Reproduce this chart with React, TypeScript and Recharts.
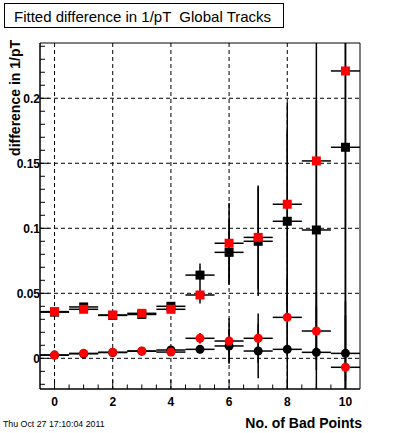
import React from "react";
import { ScatterChart, Scatter, XAxis, YAxis, CartesianGrid, ErrorBar, ReferenceArea } from "recharts";

const badPoints = [0, 1, 2, 3, 4, 5, 6, 7, 8, 9, 10];
const binHalfWidth = 0.5;

const blackSquareY = [0.0355, 0.0395, 0.033, 0.0337, 0.04, 0.064, 0.0815, 0.09, 0.1054, 0.0987, 0.1623];
const blackSquareErr = [0.002, 0.002, 0.002, 0.002, 0.003, 0.009, 0.025, 0.042, 0.07, 0.1, 0.18];
const redSquareY = [0.0359, 0.0377, 0.0333, 0.0346, 0.0377, 0.0487, 0.0885, 0.093, 0.1185, 0.1518, 0.221];
const redSquareErr = [0.002, 0.002, 0.002, 0.002, 0.003, 0.0065, 0.031, 0.04, 0.078, 0.15, 0.25];
const blackCircleY = [0.0025, 0.0035, 0.0045, 0.0055, 0.0064, 0.0069, 0.0095, 0.0056, 0.0069, 0.0046, 0.0038];
const blackCircleErr = [0.001, 0.001, 0.001, 0.001, 0.002, 0.003, 0.013, 0.021, 0.04, 0.035, 0.04];
const redCircleY = [0.0025, 0.0038, 0.0046, 0.0056, 0.0048, 0.0154, 0.0133, 0.0154, 0.0315, 0.021, -0.0069];
const redCircleErr = [0.001, 0.001, 0.001, 0.001, 0.002, 0.004, 0.0175, 0.019, 0.03, 0.03, 0.04];

const xTicks = [0, 0.5, 1, 1.5, 2, 2.5, 3, 3.5, 4, 4.5, 5, 5.5, 6, 6.5, 7, 7.5, 8, 8.5, 9, 9.5, 10];
const xMajor = [0, 2, 4, 6, 8, 10];
const yTicks = [-0.02, -0.01, 0, 0.01, 0.02, 0.03, 0.04, 0.05, 0.06, 0.07, 0.08, 0.09, 0.1, 0.11, 0.12, 0.13, 0.14, 0.15, 0.16, 0.17, 0.18, 0.19, 0.2, 0.21, 0.22, 0.23, 0.24];
const yMajor = [0, 0.05, 0.1, 0.15, 0.2];

const xDomain: [number, number] = [-0.5, 10.5];
const yDomain: [number, number] = [-0.0236, 0.2425];

const FONT = "'Liberation Sans', Arial, Helvetica, sans-serif";

// error bars are cut at the frame, like ROOT does
const build = (ys: number[], errs: number[]) =>
  badPoints.map((x, i) => ({
    x,
    y: ys[i],
    ex: binHalfWidth,
    ey: [Math.min(errs[i], ys[i] - yDomain[0]), Math.min(errs[i], yDomain[1] - ys[i])],
  }));

const isMajor = (v: number, list: number[]) => list.some((m) => Math.abs(m - v) < 1e-9);

function YTick(props: any) {
  const { x, y, payload } = props;
  const major = isMajor(payload.value, yMajor);
  return (
    <g>
      <line x1={x} x2={x + (major ? 9 : 5)} y1={y} y2={y} stroke="#000" />
      {major && (
        <text x={x} y={y} dy={4.5} textAnchor="end" fontFamily={FONT} fontWeight="bold" fontSize={12} fill="#000">
          {String(payload.value)}
        </text>
      )}
    </g>
  );
}

function XTick(props: any) {
  const { x, y, payload } = props;
  const major = isMajor(payload.value, xMajor);
  return (
    <g>
      <line x1={x} x2={x} y1={y} y2={y - (major ? 9 : 4.5)} stroke="#000" />
      {major && (
        <text x={x} y={y + 16.5} textAnchor="middle" fontFamily={FONT} fontWeight="bold" fontSize={12} fill="#000">
          {String(payload.value)}
        </text>
      )}
    </g>
  );
}

const square = (color: string) => (p: any) =>
  <rect x={p.cx - 4.5} y={p.cy - 4.5} width={9} height={9} fill={color} />;
const dot = (color: string) => (p: any) => <circle cx={p.cx} cy={p.cy} r={4.5} fill={color} />;

export default function App() {
  const series = [
    { name: "bs", data: build(blackSquareY, blackSquareErr), shape: square("#000") },
    { name: "rs", data: build(redSquareY, redSquareErr), shape: square("#ff0000") },
    { name: "bc", data: build(blackCircleY, blackCircleErr), shape: dot("#000") },
    { name: "rc", data: build(redCircleY, redCircleErr), shape: dot("#ff0000") },
  ];

  return (
    <div style={{ position: "absolute", left: 0, top: 0, width: 400, height: 433, background: "#fff", fontFamily: FONT }}>
      <ScatterChart width={400} height={433} margin={{ top: 43, right: 40, bottom: 0, left: 0 }}>
        <CartesianGrid
          horizontal
          vertical
          horizontalValues={yMajor}
          verticalValues={xMajor}
          stroke="#000"
          strokeDasharray="4 3"
        />
        <XAxis
          type="number"
          dataKey="x"
          domain={xDomain}
          ticks={xTicks}
          interval={0}
          allowDataOverflow
          height={44}
          tickSize={0}
          tickMargin={0}
          tickLine={false}
          tick={<XTick />}
          axisLine={{ stroke: "#000" }}
        />
        <YAxis
          type="number"
          dataKey="y"
          domain={yDomain}
          ticks={yTicks}
          interval={0}
          allowDataOverflow
          width={40}
          tickSize={0}
          tickMargin={0}
          tickLine={false}
          tick={<YTick />}
          axisLine={{ stroke: "#000" }}
        />
        <ReferenceArea x1={xDomain[0]} x2={xDomain[1]} y1={yDomain[0]} y2={yDomain[1]} fill="none" stroke="#000" fillOpacity={0} />
        {series.map((s) => (
          <Scatter key={s.name} data={s.data} shape={s.shape} isAnimationActive={false}>
            <ErrorBar dataKey="ex" direction="x" width={0} stroke="#000" strokeWidth={1.5} />
            <ErrorBar dataKey="ey" direction="y" width={0} stroke="#000" strokeWidth={1.5} />
          </Scatter>
        ))}
      </ScatterChart>

      <div
        style={{
          position: "absolute",
          left: 4,
          top: 3,
          width: 280,
          height: 25,
          border: "1px solid #000",
          background: "#fff",
          boxSizing: "border-box",
        }}
      />
      <svg width={400} height={433} style={{ position: "absolute", left: 0, top: 0, pointerEvents: "none" }}>
        <text x={14} y={21.5} fontFamily={FONT} fontSize={15} fill="#000" style={{ whiteSpace: "pre" }}>
          {"Fitted difference in 1/pT  Global Tracks"}
        </text>
        <text x={362} y={428} textAnchor="end" fontFamily={FONT} fontWeight="bold" fontSize={14} fill="#000">
          No. of Bad Points
        </text>
        <text
          x={20}
          y={40}
          textAnchor="end"
          transform="rotate(-90, 20, 40)"
          fontFamily={FONT}
          fontWeight="bold"
          fontSize={14}
          fill="#000"
        >
          difference in 1/pT
        </text>
        <text x={3} y={427} fontFamily={FONT} fontSize={8.8} fill="#000">
          Thu Oct 27 17:10:04 2011
        </text>
      </svg>
    </div>
  );
}
